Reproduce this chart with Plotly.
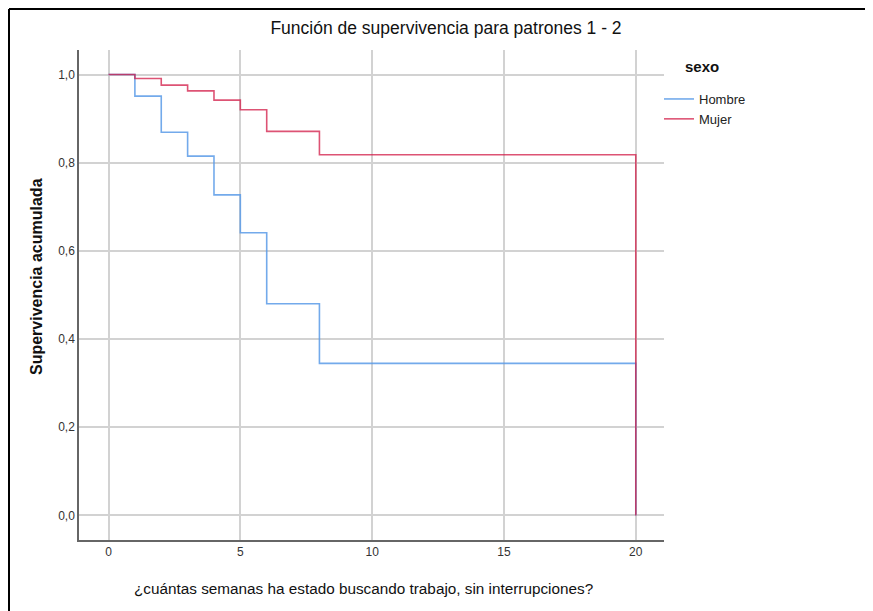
import plotly.graph_objects as go

# Kaplan-Meier step data
weeks = [0, 1, 2, 3, 4, 5, 6, 8, 20]
hombre_surv = [1.0, 0.951, 0.869, 0.815, 0.727, 0.641, 0.480, 0.345, 0.0]
mujer_surv = [1.0, 0.991, 0.976, 0.963, 0.942, 0.920, 0.871, 0.818, 0.0]
series_names = ["Hombre", "Mujer"]
x_ticks = [0, 5, 10, 15, 20]
y_ticks = [0.0, 0.2, 0.4, 0.6, 0.8, 1.0]

FONT = "Liberation Sans, Arial, sans-serif"

# page offset (browser body margin)
OFF = 8
W, H = 873 - OFF, 611 - OFF
L, R, T, B = 79, 664, 50, 540   # plot area in page pixels
pw, ph = R - L, B - T

def px(x):
    return (x - L) / pw

def py(y):
    return (B - y) / ph

fig = go.Figure()
fig.add_trace(go.Scatter(
    x=weeks, y=hombre_surv, name=series_names[0], mode="lines",
    line=dict(color="rgba(90,155,232,0.85)", width=1.6, shape="hv"),
))
fig.add_trace(go.Scatter(
    x=weeks, y=mujer_surv, name=series_names[1], mode="lines",
    line=dict(color="rgba(210,25,70,0.75)", width=1.6, shape="hv"),
))

fig.update_layout(
    width=W, height=H,
    margin=dict(l=L - OFF, r=873 - R, t=T - OFF, b=611 - B),
    paper_bgcolor="white", plot_bgcolor="white",
    separators=",.",
    title=dict(text="Función de supervivencia para patrones 1 - 2",
               xref="container", x=(446 - OFF) / W, xanchor="center",
               yref="container", y=1 - (28 - OFF) / H, yanchor="middle",
               font=dict(family=FONT, size=17.5, color="#111")),
    xaxis=dict(
        range=[-1.12, 21.07], tickvals=x_ticks, ticks="",
        showgrid=True, gridcolor="#d2d2d2", gridwidth=1.5,
        showline=True, linecolor="#666", linewidth=1.5,
        zeroline=False,
        tickfont=dict(family=FONT, size=12, color="#333"),
    ),
    yaxis=dict(
        range=[-0.0556, 1.0556], tickvals=y_ticks, tickformat=".1f", ticks="",
        showgrid=True, gridcolor="#d2d2d2", gridwidth=1.5,
        showline=True, linecolor="#666", linewidth=1.5,
        zeroline=False,
        tickfont=dict(family=FONT, size=12, color="#333"),
    ),
    legend=dict(
        x=px(659), xanchor="left", y=py(84), yanchor="top",
        font=dict(family=FONT, size=13, color="#222"),
        bgcolor="rgba(0,0,0,0)", itemwidth=30, tracegroupgap=0,
    ),
    showlegend=True,
)

# axis titles and legend title as annotations for exact placement
fig.add_annotation(text="¿cuántas semanas ha estado buscando trabajo, sin interrupciones?",
                   xref="paper", yref="paper", x=px(363), y=py(588),
                   xanchor="center", yanchor="middle", showarrow=False,
                   font=dict(family=FONT, size=15.3, color="#111"))
fig.add_annotation(text="<b>Supervivencia acumulada</b>",
                   xref="paper", yref="paper", x=px(36), y=py(277),
                   xanchor="center", yanchor="middle", textangle=-90, showarrow=False,
                   font=dict(family=FONT, size=16, color="#111"))
fig.add_annotation(text="<b>sexo</b>",
                   xref="paper", yref="paper", x=px(683), y=py(67),
                   xanchor="left", yanchor="middle", showarrow=False,
                   font=dict(family=FONT, size=15, color="#111"))

# outer black frame (left and top)
fig.add_shape(type="line", xref="paper", yref="paper",
              x0=px(9), x1=px(9), y0=py(9), y1=py(620),
              line=dict(color="black", width=2))
fig.add_shape(type="line", xref="paper", yref="paper",
              x0=px(9), x1=px(873), y0=py(9), y1=py(9),
              line=dict(color="black", width=2))

fig.write_html("out.html")
